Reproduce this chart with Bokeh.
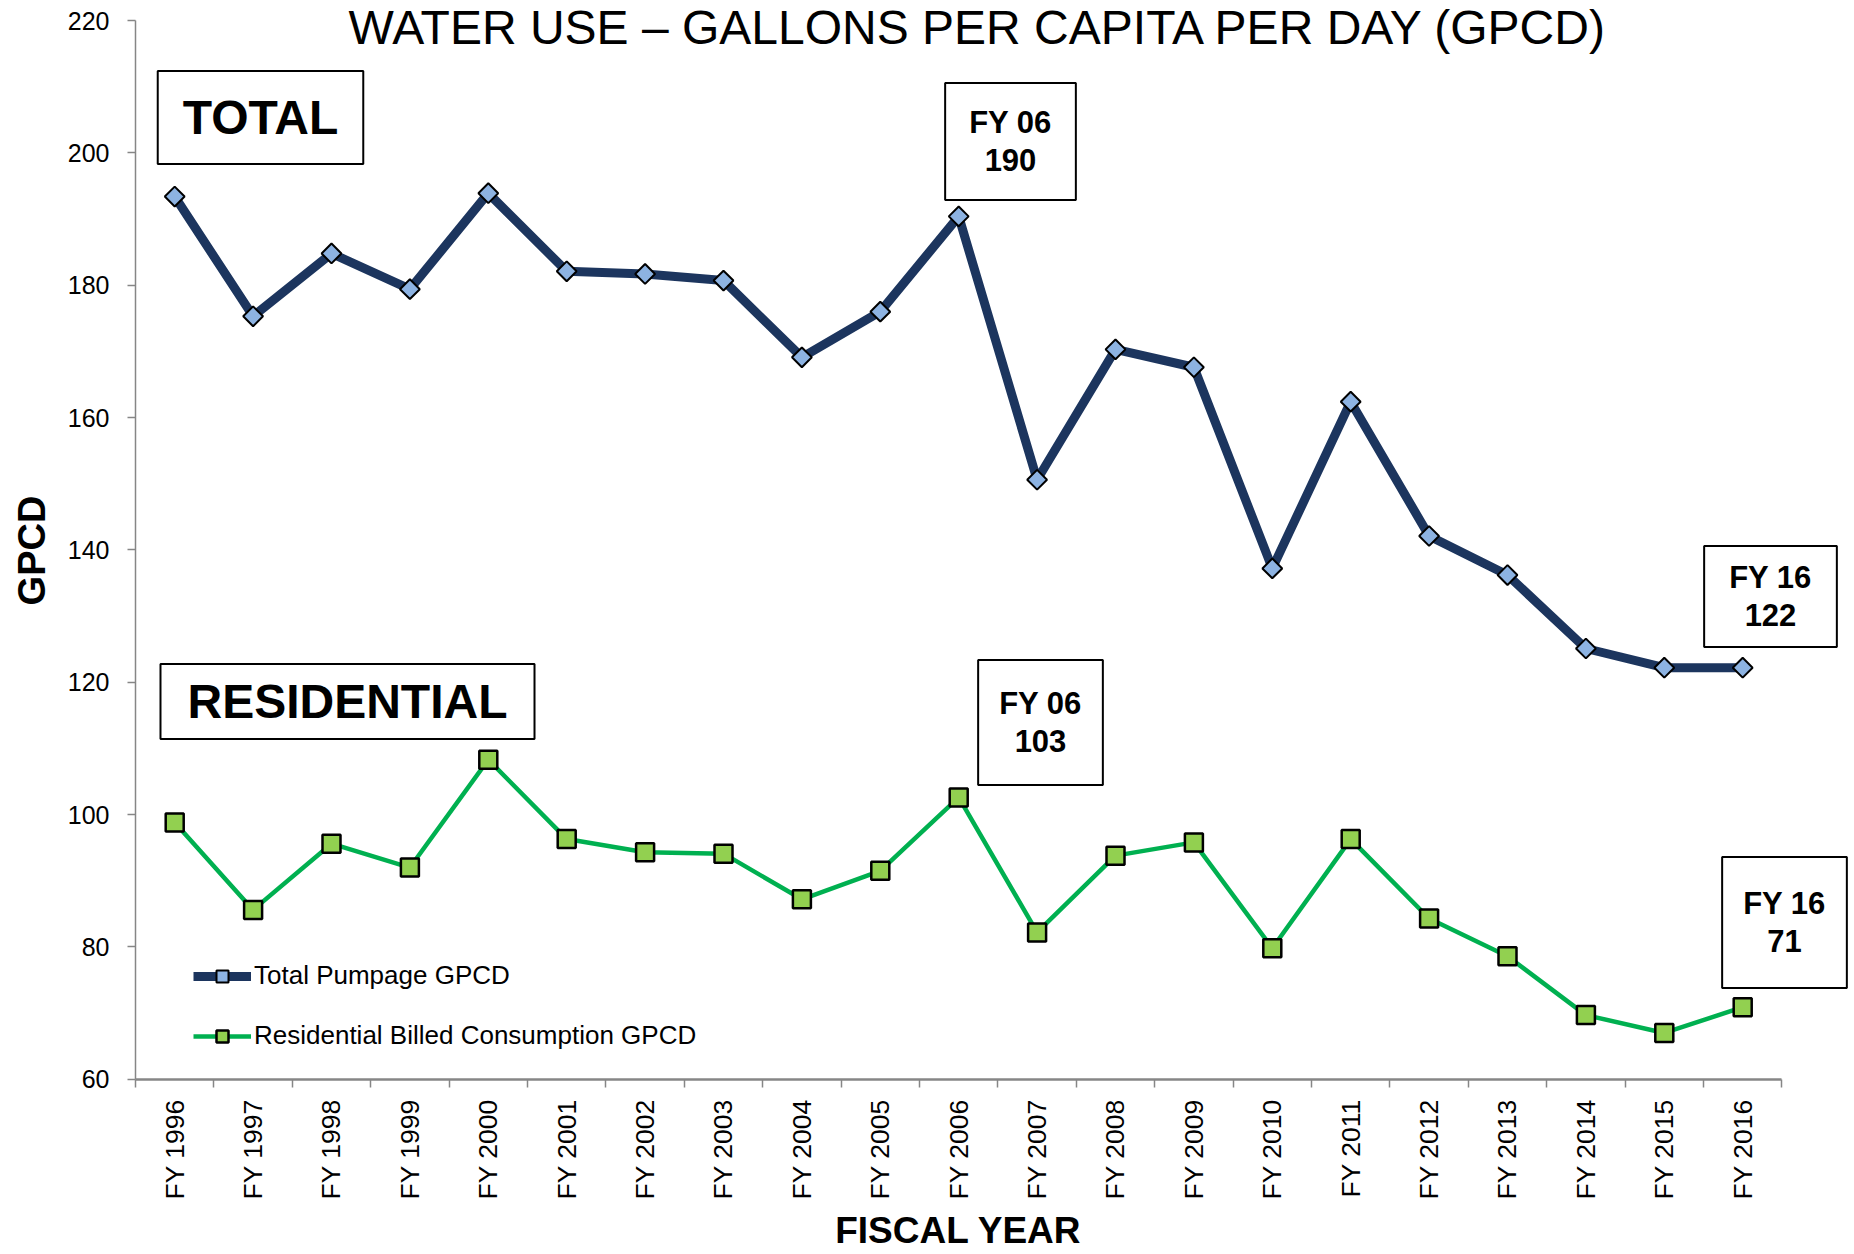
import numpy as np
from bokeh.plotting import figure
from bokeh.models import Range1d, FixedTicker, Label
from bokeh.embed import file_html
from bokeh.resources import INLINE

# ---------------- data ----------------
categories = ["FY 1996", "FY 1997", "FY 1998", "FY 1999", "FY 2000", "FY 2001", "FY 2002",
              "FY 2003", "FY 2004", "FY 2005", "FY 2006", "FY 2007", "FY 2008", "FY 2009",
              "FY 2010", "FY 2011", "FY 2012", "FY 2013", "FY 2014", "FY 2015", "FY 2016"]
total_gpcd = [193.4, 175.3, 184.8, 179.4, 193.9, 182.1, 181.7, 180.7, 169.1, 176.0, 190.4,
              150.6, 170.3, 167.6, 137.2, 162.4, 142.1, 136.2, 125.1, 122.2, 122.2]
residential_gpcd = [98.8, 85.6, 95.6, 92.0, 108.3, 96.3, 94.3, 94.1, 87.2, 91.5, 102.6,
                    82.2, 93.8, 95.8, 79.8, 96.3, 84.3, 78.6, 69.7, 67.0, 70.9]
y_ticks = [60, 80, 100, 120, 140, 160, 180, 200, 220]
series_names = ["Total Pumpage GPCD", "Residential Billed Consumption GPCD"]
title_text = "WATER USE \u2013 GALLONS PER CAPITA PER DAY (GPCD)"
x_title = "FISCAL YEAR"
y_title = "GPCD"

FONT = "Liberation Sans"
NAVY = "#1C355E"
LIGHT_BLUE = "#8DB3E2"
GREEN = "#00B050"
LIGHT_GREEN = "#92D050"
AXIS_GRAY = "#868686"

x = list(range(len(categories)))

# geometry (reference pixels): axes origin and scale
AX_LEFT_PX, AX_TOP_PX = 135, 20
CAT_PX = 78.4
Y_PX = 6.6175
y_min, y_max = y_ticks[0], y_ticks[-1]
# the frame covers the whole canvas; axes are pinned at their data locations
FR_L, FR_R, FR_T, FR_B = 0, 1850, 0, 1252

def xd(px):
    return (px - AX_LEFT_PX) / CAT_PX - 0.5

def yd(py):
    return y_max - (py - AX_TOP_PX) / Y_PX

p = figure(frame_width=FR_R - FR_L, frame_height=FR_B - FR_T,
           x_range=Range1d(xd(FR_L), xd(FR_R)),
           y_range=Range1d(yd(FR_B), yd(FR_T)),
           min_border_left=0, min_border_top=0,
           min_border_right=0, min_border_bottom=0,
           output_backend="svg", toolbar_location=None)
p.outline_line_color = None
p.xgrid.visible = False
p.ygrid.visible = False
p.background_fill_color = "white"
p.border_fill_color = "white"

# x axis
xa = p.xaxis[0]
xa.fixed_location = y_min
xa.bounds = (-0.5, len(categories) - 0.5)
xa.ticker = FixedTicker(ticks=x, minor_ticks=[i - 0.5 for i in range(len(categories) + 1)])
xa.major_label_overrides = {i: c for i, c in zip(x, categories)}
xa.major_label_orientation = np.pi / 2
xa.major_tick_out = 0
xa.major_tick_in = 0
xa.minor_tick_out = 8
xa.minor_tick_in = 0
xa.minor_tick_line_color = AXIS_GRAY
xa.minor_tick_line_width = 1.5
xa.axis_line_color = AXIS_GRAY
xa.axis_line_width = 2.5
xa.major_label_text_font = FONT
xa.major_label_text_font_size = "26.5px"
xa.major_label_text_color = "black"
xa.major_label_standoff = 12

# y axis
ya = p.yaxis[0]
ya.fixed_location = -0.5
ya.bounds = (y_min, y_max)
ya.ticker = FixedTicker(ticks=y_ticks)
ya.major_tick_out = 8
ya.major_tick_in = 0
ya.major_tick_line_color = AXIS_GRAY
ya.major_tick_line_width = 1.5
ya.minor_tick_line_color = None
ya.axis_line_color = AXIS_GRAY
ya.axis_line_width = 1.5
ya.major_label_text_font = FONT
ya.major_label_text_font_size = "25px"
ya.major_label_text_color = "black"
ya.major_label_standoff = 18

# axis titles
p.add_layout(Label(x=xd(958), y=yd(1230), text=x_title, text_align="center",
                   text_baseline="middle", text_font=FONT, text_font_size="37px",
                   text_font_style="bold", text_color="black"))
p.add_layout(Label(x=xd(31), y=yd(550), text=y_title, angle=np.pi / 2, text_align="center",
                   text_baseline="middle", text_font=FONT, text_font_size="38px",
                   text_font_style="bold", text_color="black"))

# series
p.line(x, residential_gpcd, line_color=GREEN, line_width=4.5, line_join="round",
       legend_label=series_names[1])
p.scatter(x, residential_gpcd, marker="square", size=18, fill_color=LIGHT_GREEN,
          line_color="black", line_width=2.5, legend_label=series_names[1])
p.line(x, total_gpcd, line_color=NAVY, line_width=9, line_join="round",
       legend_label=series_names[0])
p.scatter(x, total_gpcd, marker="square", angle=np.pi / 4, size=14, fill_color=LIGHT_BLUE,
          line_color="black", line_width=2, legend_label=series_names[0])

leg = p.legend[0]
leg.items = [leg.items[1], leg.items[0]]
leg.location = (193 - FR_L, FR_B - 1051)
leg.padding = 0
leg.margin = 0
leg.border_line_color = None
leg.background_fill_alpha = 0
leg.label_text_font = FONT
leg.label_text_font_size = "26px"
leg.label_text_color = "black"
leg.glyph_width = 58
leg.glyph_height = 30
leg.label_height = 30
leg.spacing = 29
leg.label_standoff = 3

# title
p.add_layout(Label(x=xd(978), y=yd(27), text=title_text, text_align="center",
                   text_baseline="middle", text_font=FONT, text_font_size="48px",
                   text_color="black"))

# callout boxes
def callout(text, cx, cy, size, pad):
    p.add_layout(Label(x=xd(cx), y=yd(cy), text=text, text_align="center",
                       text_baseline="middle", text_font=FONT, text_font_size=size,
                       text_font_style="bold", text_color="black", text_line_height=1.09,
                       border_line_color="black", border_line_width=2,
                       background_fill_color="white", padding=pad))

callout("TOTAL", 260, 117, "48px", (25, 20))
callout("RESIDENTIAL", 347, 701, "48px", (27, 11))
callout("FY 06\n190", 1010, 141, "31px", (24, 22))
callout("FY 06\n103", 1040, 722, "31px", (21, 26))
callout("FY 16\n122", 1770, 596, "31px", (25, 14))
callout("FY 16\n71", 1784, 922, "31px", (21, 29))

open("out.html", "w").write(file_html(p, INLINE))
